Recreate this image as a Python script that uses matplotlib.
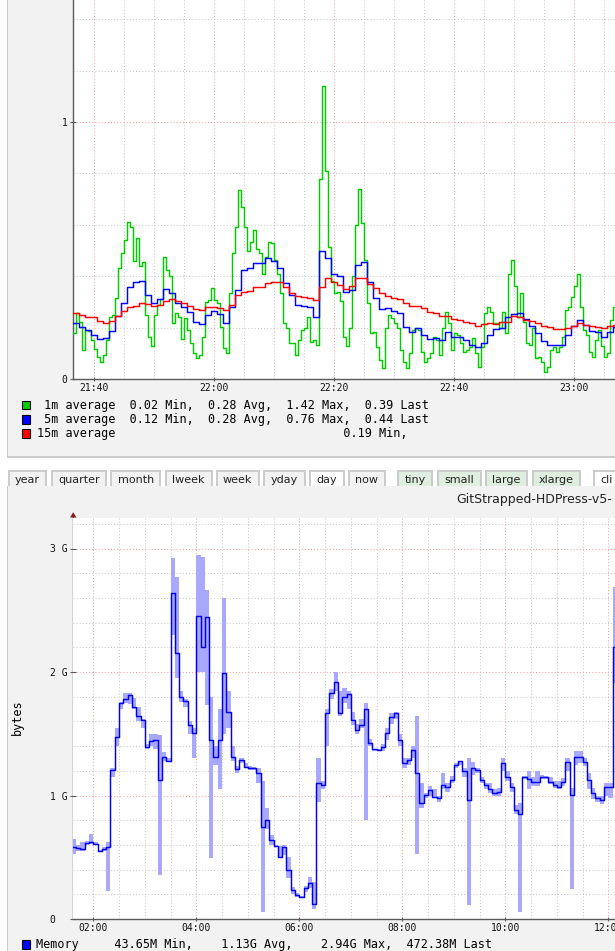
import numpy as np
import matplotlib
matplotlib.use("Agg")
import matplotlib.pyplot as plt
from matplotlib.patches import Rectangle, Polygon

# ---------------- data: load average chart ----------------
load_start_min = 21 * 60 + 36.5      # first sample, minutes after midnight
load_1m_step = 0.5                   # minutes per sample
load_5m_step = 1.0
load_1m = [
    0.178, 0.255, 0.22, 0.113, 0.19, 0.188, 0.152, 0.118, 0.087, 0.067,
    0.093, 0.15, 0.243, 0.25, 0.314, 0.43, 0.49, 0.54, 0.61, 0.59,
    0.46, 0.55, 0.44, 0.456, 0.25, 0.165, 0.128, 0.25, 0.288, 0.31,
    0.476, 0.424, 0.4, 0.217, 0.255, 0.243, 0.154, 0.236, 0.19, 0.139,
    0.102, 0.08, 0.093, 0.165, 0.3, 0.307, 0.353, 0.307, 0.294, 0.204,
    0.119, 0.1, 0.333, 0.49, 0.593, 0.735, 0.67, 0.593, 0.5, 0.534,
    0.58, 0.505, 0.49, 0.41, 0.476, 0.534, 0.528, 0.463, 0.41, 0.333,
    0.217, 0.197, 0.139, 0.139, 0.093, 0.152, 0.19, 0.2, 0.243, 0.145,
    0.152, 0.132, 0.78, 1.14, 0.81, 0.515, 0.38, 0.335, 0.34, 0.305,
    0.165, 0.13, 0.2, 0.4, 0.6, 0.74, 0.606, 0.463, 0.294, 0.178,
    0.184, 0.126, 0.074, 0.042, 0.2, 0.25, 0.236, 0.217, 0.2, 0.113,
    0.067, 0.042, 0.1, 0.19, 0.2, 0.19, 0.106, 0.067, 0.08, 0.1,
    0.165, 0.152, 0.093, 0.2, 0.262, 0.217, 0.113, 0.178, 0.171, 0.139,
    0.106, 0.113, 0.126, 0.158, 0.1, 0.048, 0.126, 0.255, 0.281, 0.262,
    0.217, 0.217, 0.2, 0.262, 0.178, 0.41, 0.463, 0.36, 0.243, 0.333,
    0.223, 0.139, 0.132, 0.2, 0.08, 0.087, 0.067, 0.029, 0.048, 0.113,
    0.126, 0.106, 0.126, 0.165, 0.268, 0.281, 0.32, 0.36, 0.41, 0.281,
    0.19, 0.171, 0.106, 0.087, 0.152, 0.19, 0.128, 0.087, 0.1, 0.23,
    0.281,
]
load_5m = [
    0.216, 0.204, 0.191, 0.171, 0.154, 0.161, 0.188, 0.245, 0.294, 0.359,
    0.379, 0.383, 0.327, 0.297, 0.31, 0.349, 0.333, 0.297, 0.281, 0.259,
    0.223, 0.214, 0.249, 0.266, 0.253, 0.217, 0.281, 0.346, 0.424, 0.43,
    0.453, 0.453, 0.47, 0.459, 0.43, 0.375, 0.327, 0.288, 0.284, 0.279,
    0.243, 0.5, 0.47, 0.407, 0.401, 0.34, 0.346, 0.444, 0.457, 0.379,
    0.314, 0.271, 0.275, 0.266, 0.256, 0.204, 0.184, 0.2, 0.171, 0.156,
    0.158, 0.152, 0.184, 0.165, 0.162, 0.152, 0.132, 0.126, 0.139, 0.171,
    0.193, 0.2, 0.243, 0.252, 0.256, 0.232, 0.206, 0.18, 0.149, 0.134,
    0.134, 0.134, 0.171, 0.206, 0.23, 0.21, 0.188, 0.184, 0.162, 0.184,
    0.204,
]
load_15m = [
    0.258, 0.249, 0.243, 0.24, 0.226, 0.217, 0.227, 0.245, 0.266, 0.28,
    0.284, 0.297, 0.291, 0.284, 0.288, 0.305, 0.31, 0.302, 0.297, 0.285,
    0.274, 0.268, 0.279, 0.281, 0.275, 0.268, 0.288, 0.327, 0.34, 0.344,
    0.357, 0.359, 0.372, 0.379, 0.377, 0.359, 0.336, 0.324, 0.318, 0.314,
    0.309, 0.359, 0.393, 0.379, 0.367, 0.352, 0.363, 0.392, 0.392, 0.37,
    0.353, 0.336, 0.324, 0.316, 0.313, 0.297, 0.283, 0.284, 0.275, 0.262,
    0.256, 0.246, 0.245, 0.232, 0.228, 0.223, 0.217, 0.208, 0.215, 0.217,
    0.215, 0.22, 0.223, 0.244, 0.243, 0.231, 0.226, 0.217, 0.208, 0.201,
    0.196, 0.193, 0.197, 0.208, 0.217, 0.21, 0.206, 0.204, 0.2, 0.206,
    0.21,
]
load_xtick_labels = ["21:40", "22:00", "22:20", "22:40", "23:00"]
load_ytick_labels = ["0", "1"]
load_legend_lines = [
    " 1m average  0.02 Min,  0.28 Avg,  1.42 Max,  0.39 Last",
    " 5m average  0.12 Min,  0.28 Avg,  0.76 Max,  0.44 Last",
    "15m average" + " " * 32 + "0.19 Min,",
]
load_colors = ["#00cc00", "#0000ff", "#ff0000"]

# ---------------- data: memory chart ----------------
mem_start_h = 1 + 35 / 60           # first 5-minute sample
mem_step_h = 5 / 60
mem_avg = [
    0.586, 0.572, 0.57, 0.618, 0.626, 0.607, 0.553, 0.564, 0.586, 1.206,
    1.476, 1.746, 1.779, 1.814, 1.719, 1.646, 1.611, 1.39, 1.441, 1.449,
    1.126, 1.314, 1.28, 2.637, 2.151, 1.8, 1.765, 1.571, 1.503, 2.45,
    2.205, 2.448, 1.449, 1.314, 1.449, 1.989, 1.679, 1.314, 1.212, 1.285,
    1.233, 1.223, 1.22, 1.18, 0.748, 0.802, 0.64, 0.591, 0.505, 0.586,
    0.397, 0.235, 0.194, 0.181, 0.248, 0.289, 0.12, 1.099, 1.085, 1.665,
    1.83, 1.916, 1.665, 1.8, 1.822, 1.611, 1.53, 1.571, 1.7, 1.422,
    1.374, 1.368, 1.395, 1.503, 1.638, 1.671, 1.449, 1.26, 1.287, 1.368,
    1.18, 0.937, 1.004, 1.045, 0.991, 0.977, 1.085, 1.072, 1.126, 1.247,
    1.279, 1.198, 0.964, 1.22, 1.206, 1.126, 1.085, 1.05, 1.018, 1.031,
    1.26, 1.153, 1.072, 0.883, 0.85, 1.153, 1.131, 1.112, 1.112, 1.147,
    1.147, 1.112, 1.085, 1.072, 1.112, 1.274, 1.004, 1.314, 1.314, 1.274,
    1.126, 1.018, 0.977, 0.964, 1.072, 1.072, 2.205,
]
mem_min = [
    0.53, 0.55, 0.55, 0.60, 0.61, 0.60, 0.54, 0.55, 0.23, 1.15,
    1.40, 1.70, 1.75, 1.74, 1.70, 1.60, 1.55, 1.38, 1.40, 1.38,
    0.36, 1.28, 1.27, 2.30, 1.95, 1.76, 1.72, 1.50, 1.30, 2.00,
    2.00, 1.73, 0.49, 1.25, 1.05, 1.50, 1.55, 1.28, 1.18, 1.26,
    1.22, 1.21, 1.21, 1.10, 0.06, 0.73, 0.60, 0.58, 0.49, 0.52,
    0.33, 0.20, 0.18, 0.17, 0.22, 0.25, 0.08, 0.95, 1.05, 1.40,
    1.78, 1.85, 1.64, 1.75, 1.70, 1.57, 1.50, 1.55, 0.80, 1.40,
    1.36, 1.36, 1.36, 1.45, 1.58, 1.62, 1.40, 1.22, 1.25, 1.30,
    0.53, 0.90, 0.98, 1.00, 0.98, 0.95, 1.05, 1.03, 1.10, 1.22,
    1.25, 1.15, 0.11, 1.17, 1.18, 1.10, 1.05, 1.02, 1.00, 1.00,
    1.20, 1.12, 1.03, 0.85, 0.06, 1.13, 1.05, 1.08, 1.08, 1.13,
    1.13, 1.09, 1.06, 1.05, 1.08, 1.20, 0.24, 1.25, 1.26, 1.24,
    1.05, 0.97, 0.95, 0.93, 1.00, 0.98, 1.91,
]
mem_max = [
    0.65, 0.60, 0.62, 0.63, 0.69, 0.62, 0.56, 0.58, 0.62, 1.22,
    1.55, 1.76, 1.83, 1.83, 1.79, 1.72, 1.62, 1.42, 1.50, 1.50,
    1.49, 1.35, 1.30, 2.92, 2.77, 1.85, 1.78, 1.60, 1.55, 2.95,
    2.93, 2.66, 1.80, 1.40, 1.70, 2.60, 1.85, 1.40, 1.24, 1.30,
    1.26, 1.24, 1.23, 1.22, 1.12, 0.90, 0.68, 0.60, 0.59, 0.60,
    0.50, 0.26, 0.21, 0.19, 0.27, 0.34, 0.30, 1.30, 1.12, 1.70,
    1.86, 2.00, 1.85, 1.87, 1.85, 1.68, 1.58, 1.62, 1.75, 1.46,
    1.38, 1.38, 1.42, 1.55, 1.67, 1.68, 1.50, 1.30, 1.30, 1.40,
    1.64, 1.10, 1.02, 1.08, 1.05, 1.00, 1.18, 1.10, 1.16, 1.26,
    1.28, 1.22, 1.30, 1.27, 1.22, 1.15, 1.10, 1.10, 1.05, 1.06,
    1.30, 1.20, 1.10, 0.92, 0.94, 1.16, 1.20, 1.15, 1.20, 1.17,
    1.16, 1.15, 1.12, 1.12, 1.14, 1.30, 1.06, 1.36, 1.36, 1.30,
    1.18, 1.06, 1.00, 1.00, 1.10, 1.10, 2.69,
]
mem_xtick_labels = ["02:00", "04:00", "06:00", "08:00", "10:00", "12:00"]
mem_ytick_labels = ["0  ", "1 G", "2 G", "3 G"]
mem_legend_line = "Memory     43.65M Min,    1.13G Avg,    2.94G Max,  472.38M Last"
mem_title = "GitStrapped-HDPress-v5-"

buttons = ["year", "quarter", "month", "lweek", "week", "yday", "day", "now",
           "tiny", "small", "large", "xlarge", "cli"]

# ---------------- layout / style ----------------
W, H = 615, 951
fig = plt.figure(figsize=(W / 100, H / 100), dpi=100)
fig.patch.set_facecolor("white")

MONO = "DejaVu Sans Mono"
SANS = "DejaVu Sans"
PANEL = "#f2f2f2"
BORDER = "#cbcbcb"
AXC = "#5a5a5a"
MINOR = "#c9c9c9"
MAJOR = "#f2a2a2"
DOT = (0, (1, 2))

bg = fig.add_axes([0, 0, 1, 1], zorder=0)
bg.set_xlim(0, W)
bg.set_ylim(H, 0)
bg.axis("off")


def px_axes(x0, y0, x1, y1, z=2):
    return fig.add_axes([x0 / W, 1 - y1 / H, (x1 - x0) / W, (y1 - y0) / H], zorder=z)


# top panel
bg.add_patch(Rectangle((8, 0), W - 8, 456, fc=PANEL, ec="none"))
bg.add_patch(Rectangle((6.8, 0), 1.6, 458, fc=BORDER, ec="none"))
bg.add_patch(Rectangle((6.8, 456), W, 2, fc=BORDER, ec="none"))

# buttons (tabs)
btn_x = [(8.6, 46.3), (51.8, 105.9), (111.4, 160), (165.5, 211.8), (216.5, 258.8),
         (264.3, 305), (309.8, 344.3), (349, 385), (398.4, 432.2), (437.6, 480.8),
         (485.5, 527), (532.5, 580.4), (593.7, 640)]
btn_fc = [PANEL] * 6 + ["#ffffff", PANEL] + ["#dfefdf"] * 4 + ["#ffffff"]
for name, (x0, x1), fc in zip(buttons, btn_x, btn_fc):
    bg.add_patch(Rectangle((x0, 470.5), x1 - x0, 18, fc=fc, ec=BORDER, lw=1.4))
    if x1 <= W:
        bg.text((x0 + x1) / 2, 480, name, fontsize=8, family=SANS, color="#222222",
                ha="center", va="center")
    else:
        bg.text(x0 + 6.5, 480, name, fontsize=8, family=SANS, color="#222222",
                ha="left", va="center")

# lower panel
bg.add_patch(Rectangle((8, 485.5), W - 8, H - 485, fc=PANEL, ec="none", zorder=3))
bg.add_patch(Rectangle((6.8, 485.5), 1.6, H - 485, fc=BORDER, ec="none", zorder=3))
bg.text(456, 500, mem_title, fontsize=9, family=SANS, color="#222222",
        ha="left", va="center", zorder=4)

# y axis extension + arrow for the memory chart
bg.plot([73.2, 73.2], [919, 516], color=AXC, lw=1.0, zorder=4, solid_capstyle="butt")
bg.add_patch(Polygon([(70, 517.5), (76.4, 517.5), (73.2, 512.2)], closed=True,
                     fc="#8a1c1c", ec="none", zorder=5))


def step_xy(t0, dt, vals):
    x = t0 + dt * np.arange(len(vals) + 1)
    y = np.append(np.asarray(vals, float), vals[-1])
    return x, y


def style_axes(ax):
    ax.set_facecolor("white")
    for s in ("top", "right"):
        ax.spines[s].set_visible(False)
    for s in ("left", "bottom"):
        ax.spines[s].set_color(AXC)
        ax.spines[s].set_linewidth(1.0)
    ax.tick_params(axis="both", which="major", direction="inout", length=4,
                   width=0.8, color=AXC, labelsize=7, labelcolor="#111111")
    ax.tick_params(axis="y", pad=2.0)
    ax.tick_params(axis="x", pad=1.6, length=3)
    for lab in ax.get_xticklabels() + ax.get_yticklabels():
        lab.set_family(MONO)


# ---------------- top: load average ----------------
ax1 = px_axes(73.2, 0, W, 379)
t_0 = 21 * 60 + 40
px_per_min = 6.0
ax1.set_xlim(t_0 - (94 - 73.2) / px_per_min, t_0 + (W - 94) / px_per_min)
ax1.set_ylim(0, 379 / 257)
for v in np.arange(0.2, 1.5, 0.2):
    major = abs(v - 1.0) < 1e-6
    ax1.axhline(v, color=MAJOR if major else MINOR, lw=0.75, ls=DOT, zorder=0)
for m in range(0, 90, 5):
    ax1.axvline(t_0 + m, color=MAJOR if m % 20 == 0 else MINOR, lw=0.75, ls=DOT, zorder=0)

x, y = step_xy(load_start_min, load_1m_step, load_1m)
ax1.step(x, y, where="post", color=load_colors[0], lw=1.05, zorder=3)
x, y = step_xy(load_start_min, load_5m_step, load_5m)
ax1.step(x, y, where="post", color=load_colors[1], lw=1.05, zorder=4)
x, y = step_xy(load_start_min, load_5m_step, load_15m)
ax1.step(x, y, where="post", color=load_colors[2], lw=1.05, zorder=5)

ax1.set_xticks([t_0 + 20 * i for i in range(len(load_xtick_labels))])
ax1.set_xticklabels(load_xtick_labels)
ax1.set_yticks([0, 1])
ax1.set_yticklabels(load_ytick_labels)
style_axes(ax1)

for i, (line, col) in enumerate(zip(load_legend_lines, load_colors)):
    yc = 405 + 14.2 * i
    bg.add_patch(Rectangle((22.2, yc - 4.3), 8.2, 8.6, fc=col, ec="black", lw=0.8, zorder=2))
    bg.text(37, yc, line, fontsize=8.5, family=MONO, color="black",
            ha="left", va="center", zorder=2)

# ---------------- bottom: memory ----------------
ax2 = px_axes(73.2, 518, W, 919)
px_per_h = 51.5
ax2.set_xlim(2 - (93.3 - 73.2) / px_per_h, 2 + (W - 93.3) / px_per_h)
ax2.set_ylim(0, (919 - 518) / 123.5)
for v in np.arange(0.2, 3.3, 0.2):
    major = abs(v - round(v)) < 1e-6
    ax2.axhline(v, color=MAJOR if major else MINOR, lw=0.75, ls=DOT, zorder=0)
for hh in np.arange(2.0, 12.6, 0.5):
    major = abs(hh / 2 - round(hh / 2)) < 1e-6
    ax2.axvline(hh, color=MAJOR if major else MINOR, lw=0.75, ls=DOT, zorder=0)

xm = mem_start_h + mem_step_h * np.arange(len(mem_avg) + 1)
lo = np.append(mem_min, mem_min[-1])
hi = np.append(mem_max, mem_max[-1])
ax2.fill_between(xm, lo, hi, step="post", color="#a8a8ff", lw=0, zorder=2)
x, y = step_xy(mem_start_h, mem_step_h, mem_avg)
ax2.step(x, y, where="post", color="#0000ee", lw=1.05, zorder=3)

ax2.set_xticks([2 + 2 * i for i in range(len(mem_xtick_labels))])
ax2.set_xticklabels(mem_xtick_labels)
ax2.set_yticks([0, 1, 2, 3])
ax2.set_yticklabels(mem_ytick_labels)
style_axes(ax2)
ax2.spines["left"].set_visible(False)

bg.text(17.5, 717, "bytes", fontsize=8.5, family=MONO, color="black",
        rotation=90, ha="center", va="center", zorder=4)
bg.add_patch(Rectangle((22.2, 940.2), 8.2, 8.6, fc="#0000ff", ec="black", lw=0.8, zorder=4))
bg.text(36.5, 944.5, mem_legend_line, fontsize=8.5, family=MONO, color="black",
        ha="left", va="center", zorder=4)

fig.savefig("out.png", dpi=100, facecolor="white")
